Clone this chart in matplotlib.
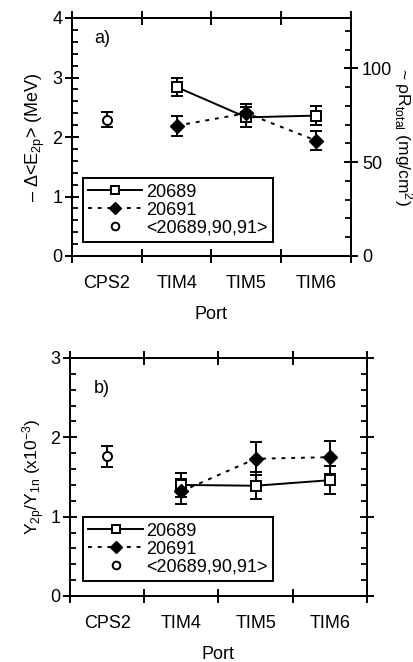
import matplotlib
matplotlib.use("Agg")
import matplotlib.pyplot as plt
from matplotlib.ticker import MultipleLocator, FixedLocator, NullFormatter
from matplotlib.lines import Line2D

plt.rcParams['font.family'] = ['Liberation Sans', 'DejaVu Sans']
plt.rcParams['mathtext.fontset'] = 'custom'
plt.rcParams['mathtext.rm'] = 'Liberation Sans'
plt.rcParams['mathtext.it'] = 'Liberation Sans'
plt.rcParams['mathtext.sf'] = 'Liberation Sans'

ports = ["CPS2", "TIM4", "TIM5", "TIM6"]
ports_pair = ["TIM4", "TIM5", "TIM6"]
avg_port = ["CPS2"]

# panel a: -Delta<E2p> (MeV)
a_20689 = [2.84, 2.33, 2.36]
a_20689_err = [0.15, 0.17, 0.16]
a_20691 = [2.19, 2.40, 1.94]
a_20691_err = [0.17, 0.15, 0.16]
a_avg = [2.29]
a_avg_err = [0.13]

# panel b: Y2p/Y1n (x1e-3)
b_20689 = [1.40, 1.39, 1.46]
b_20689_err = [0.15, 0.17, 0.18]
b_20691 = [1.32, 1.73, 1.75]
b_20691_err = [0.16, 0.21, 0.21]
b_avg = [1.76]
b_avg_err = [0.13]

labels = ["20689", "20691", "<20689,90,91>"]

fig = plt.figure(figsize=(4.14, 6.62), dpi=100)
W, H = 414, 662

def add_ax(l, r, t, b):
    return fig.add_axes([l / W, (H - b) / H, (r - l) / W, (b - t) / H])

ax1 = add_ax(72, 351, 18, 256)
ax2 = add_ax(70, 367, 358, 596)

pos = {p: i + 0.5 for i, p in enumerate(ports)}
xp = [pos[p] for p in ports_pair]
xa = [pos[p] for p in avg_port]

FS = 13
lw = 1.4
ew = 1.4
ms_sq = 7
ms_di = 7
ms_ci = 6.5
dash = (0, (2.0, 3.0))

def draw(ax, y1, e1, y2, e2, ya, ea):
    ax.errorbar(xp, y1, yerr=e1, fmt='s-', color='black', mfc='white', mec='black',
                ms=ms_sq, mew=1.4, lw=lw, capsize=4, capthick=ew, elinewidth=ew, zorder=3)
    ax.errorbar(xp, y2, yerr=e2, fmt='D', ls=dash, color='black', mfc='black',
                ms=ms_di, lw=lw, capsize=4, capthick=ew, elinewidth=ew, zorder=3)
    ax.errorbar(xa, ya, yerr=ea, fmt='o', color='black', mfc='white', mec='black',
                ms=ms_ci, mew=1.4, capsize=4, capthick=ew, elinewidth=ew, zorder=3)

draw(ax1, a_20689, a_20689_err, a_20691, a_20691_err, a_avg, a_avg_err)
draw(ax2, b_20689, b_20689_err, b_20691, b_20691_err, b_avg, b_avg_err)

for ax in (ax1, ax2):
    ax.set_xlim(0, 4)
    ax.xaxis.set_major_locator(FixedLocator([0, 1, 2, 3, 4]))
    ax.xaxis.set_major_formatter(NullFormatter())
    ax.xaxis.set_minor_locator(FixedLocator([0.5, 1.5, 2.5, 3.5]))
    ax.set_xticklabels(ports, minor=True)
    ax.tick_params(axis='x', which='minor', length=0, labelsize=FS, pad=14)
    ax.tick_params(axis='x', which='major', direction='inout', length=10, width=1.4, top=True)
    ax.tick_params(axis='y', which='major', direction='inout', length=10, width=1.4, labelsize=FS, pad=2)
    ax.tick_params(axis='y', which='minor', direction='in', length=4, width=1.3)
    for s in ax.spines.values():
        s.set_linewidth(1.4)
    ax.set_xlabel("Port", fontsize=FS, labelpad=10)

# panel a
ax1.set_ylim(0, 4)
ax1.yaxis.set_major_locator(MultipleLocator(1))
ax1.yaxis.set_minor_locator(MultipleLocator(0.2))
ax1.tick_params(axis='y', which='both', right=False)
ax1.set_ylabel("\u2013 \u0394<E$_{2p}$> (MeV)", fontsize=FS, labelpad=4)
ax1.text(0.08, 0.915, "a)", transform=ax1.transAxes, fontsize=FS, va='center')

ax1r = ax1.twinx()
ax1r.set_ylim(0, 4 * 100 / 3.155)
ax1r.yaxis.set_major_locator(MultipleLocator(50))
ax1r.yaxis.set_minor_locator(MultipleLocator(10))
ax1r.tick_params(axis='y', which='major', direction='inout', length=10, width=1.4, labelsize=FS, pad=3)
ax1r.tick_params(axis='y', which='minor', direction='in', length=4, width=1.3)
for s in ax1r.spines.values():
    s.set_linewidth(1.4)
ax1r.set_ylabel("~ \u03c1R$_{total}$ (mg/cm$^2$)", fontsize=12.5, rotation=270, labelpad=16)

# panel b
ax2.set_ylim(0, 3)
ax2.yaxis.set_major_locator(MultipleLocator(1))
ax2.yaxis.set_minor_locator(MultipleLocator(0.2))
ax2.tick_params(axis='y', which='both', right=True)
ax2.set_ylabel("Y$_{2p}$/Y$_{1n}$ (x10$^{-3}$)", fontsize=12.5, labelpad=2)
ax2.text(0.08, 0.87, "b)", transform=ax2.transAxes, fontsize=FS, va='center')

def make_handles():
    return [
        Line2D([], [], color='black', lw=lw, marker='s', mfc='white', mec='black', ms=ms_sq - 1, mew=1.4),
        Line2D([], [], color='black', lw=lw, ls=dash, marker='D', mfc='black', ms=ms_di - 0.5),
        Line2D([], [], color='black', lw=0, marker='o', mfc='white', mec='black', ms=ms_ci - 1, mew=1.4),
    ]

for ax, anchor in ((ax1, (0.039, 0.059)), (ax2, (0.044, 0.063))):
    leg = ax.legend(make_handles(), labels, loc='lower left', bbox_to_anchor=anchor,
                    borderaxespad=0, fontsize=FS, handlelength=3.0, handletextpad=0.2,
                    labelspacing=0.05, borderpad=0.3, fancybox=False, frameon=True,
                    edgecolor='black', framealpha=1)
    leg.get_frame().set_linewidth(1.4)

fig.savefig("out.png", dpi=100)
